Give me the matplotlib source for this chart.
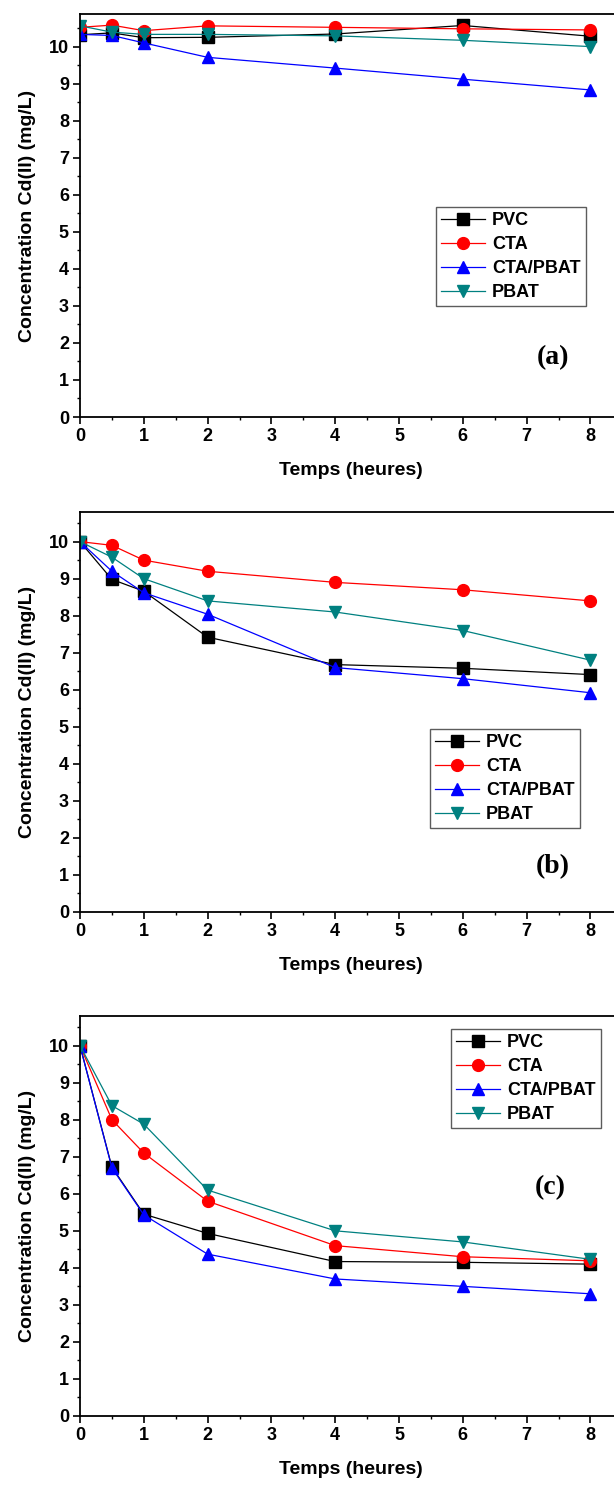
import matplotlib
matplotlib.use("Agg")
import matplotlib.pyplot as plt
from matplotlib.ticker import MultipleLocator

plt.rcParams['font.family'] = ['Liberation Sans', 'DejaVu Sans']

time_h = [0, 0.5, 1, 2, 4, 6, 8]
series_names = ["PVC", "CTA", "CTA/PBAT", "PBAT"]

# Panel (a)
a_pvc = [10.32, 10.37, 10.24, 10.25, 10.34, 10.57, 10.28]
a_cta = [10.52, 10.58, 10.43, 10.56, 10.52, 10.48, 10.45]
a_cta_pbat = [10.33, 10.30, 10.10, 9.71, 9.42, 9.12, 8.83]
a_pbat = [10.56, 10.39, 10.33, 10.33, 10.29, 10.17, 10.00]

# Panel (b)
b_pvc = [10.0, 8.98, 8.66, 7.42, 6.68, 6.58, 6.41]
b_cta = [10.0, 9.90, 9.50, 9.20, 8.90, 8.70, 8.40]
b_cta_pbat = [10.0, 9.20, 8.62, 8.04, 6.60, 6.30, 5.92]
b_pbat = [10.0, 9.58, 9.00, 8.40, 8.10, 7.60, 6.80]

# Panel (c)
c_pvc = [10.0, 6.72, 5.45, 4.93, 4.17, 4.15, 4.10]
c_cta = [10.0, 8.00, 7.10, 5.80, 4.60, 4.30, 4.19]
c_cta_pbat = [10.0, 6.70, 5.43, 4.37, 3.70, 3.50, 3.30]
c_pbat = [10.0, 8.38, 7.88, 6.10, 5.00, 4.70, 4.23]

panel_labels = ["(a)", "(b)", "(c)"]
xlabel = "Temps (heures)"
ylabel = "Concentration Cd(II) (mg/L)"

colors = ["#000000", "#FF0000", "#0000FF", "#008080"]
markers = ["s", "o", "^", "v"]

W, H = 614, 1485
fig = plt.figure(figsize=(W / 100, H / 100), dpi=100)

# layout in pixels: (top, bottom, ymax, legend(left, top), label(x, y))
layout = [
    (14, 417, 10.88, (436, 207), (553, 358)),
    (512, 912, 10.8, (430, 729), (553, 867)),
    (1016, 1416, 10.8, (451, 1029), (550, 1188)),
]
data = [
    [a_pvc, a_cta, a_cta_pbat, a_pbat],
    [b_pvc, b_cta, b_cta_pbat, b_pbat],
    [c_pvc, c_cta, c_cta_pbat, c_pbat],
]

x_left = 80
px_per_unit = 63.8
xmax = 8.5
ax_w = xmax * px_per_unit
for i, (top, bot, ymax, leg, lab) in enumerate(layout):
    ax = fig.add_axes([x_left / W, 1 - bot / H, ax_w / W, (bot - top) / H])
    for name, ys, c, m in zip(series_names, data[i], colors, markers):
        ax.plot(time_h, ys, color=c, marker=m, markersize=8.5, linewidth=0.9,
                label=name, markeredgecolor=c, markerfacecolor=c)
    ax.set_xlim(0, xmax)
    ax.set_ylim(0, ymax)
    ax.xaxis.set_major_locator(MultipleLocator(1))
    ax.xaxis.set_minor_locator(MultipleLocator(0.5))
    ax.yaxis.set_major_locator(MultipleLocator(1))
    ax.yaxis.set_minor_locator(MultipleLocator(0.5))
    ax.tick_params(which='major', direction='out', length=5, width=1.2,
                   labelsize=13, pad=3)
    ax.tick_params(which='minor', direction='out', length=2.5, width=1.0)
    ax.tick_params(top=False, right=False)
    for lbl in ax.get_xticklabels() + ax.get_yticklabels():
        lbl.set_fontweight('bold')
    for s in ax.spines.values():
        s.set_linewidth(1.3)
    ax.set_xlabel(xlabel, fontsize=14, fontweight='bold', labelpad=12)
    ax.set_ylabel(ylabel, fontsize=14, fontweight='bold')
    ax.yaxis.set_label_coords((36 - x_left) / ax_w, 0.5)

    legend = ax.legend(loc='upper left',
                       bbox_to_anchor=(leg[0] / W, 1 - leg[1] / H),
                       bbox_transform=fig.transFigure,
                       prop={'weight': 'bold', 'size': 13},
                       frameon=True, fancybox=False, edgecolor='#333333',
                       borderpad=0.3, handlelength=2.4, handletextpad=0.4,
                       labelspacing=0.38, borderaxespad=0, markerscale=1.0)
    legend.get_frame().set_linewidth(1.0)

    fig.text(lab[0] / W, 1 - lab[1] / H, panel_labels[i], ha='center', va='center',
             fontsize=20, fontweight='bold', family='Liberation Serif')

fig.savefig("out.png", dpi=100)
